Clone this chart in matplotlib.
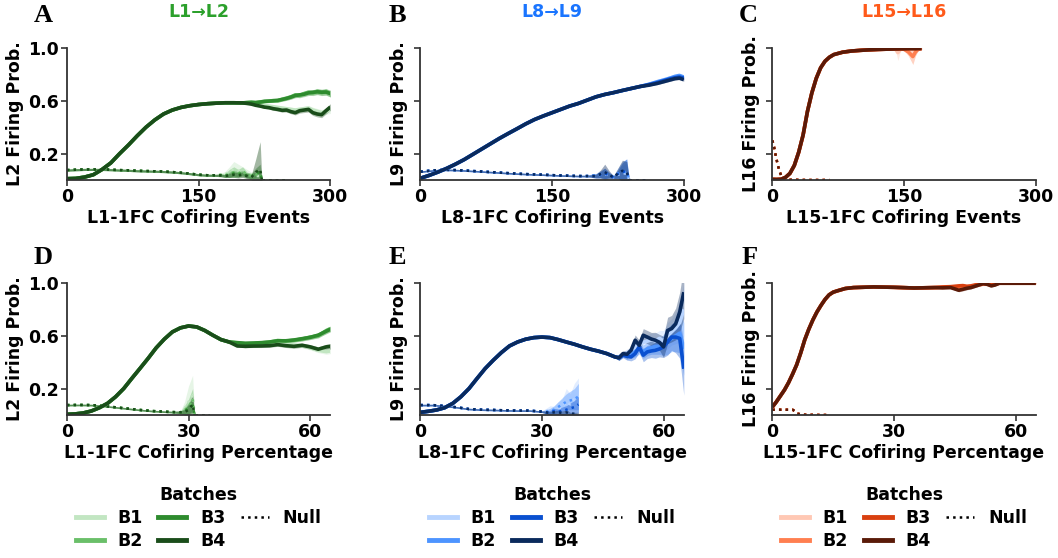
import matplotlib.pyplot as plt
from matplotlib.lines import Line2D

plt.rcParams['font.family'] = ['DejaVu Sans']
plt.rcParams['font.weight'] = 'bold'

BATCHES = ['B1', 'B2', 'B3', 'B4']
GREENS = ['#c2e6c2', '#6abf69', '#2e8b2e', '#1a4d1a']
BLUES = ['#b8d4ff', '#4d94ff', '#0a50d0', '#0a2a5c']
ORANGES = ['#ffc8b4', '#ff7f50', '#d94010', '#5a1a08']
TITLE_COLORS = ['#2ca02c', '#1a75ff', '#ff5a1a']
TITLES = ['L1\u2192L2', 'L8\u2192L9', 'L15\u2192L16']
LETTERS = ['A', 'B', 'C', 'D', 'E', 'F']
YLABELS = ['L2 Firing Prob.', 'L9 Firing Prob.', 'L16 Firing Prob.']
XLABELS_TOP = ['L1-1FC Cofiring Events', 'L8-1FC Cofiring Events', 'L15-1FC Cofiring Events']
XLABELS_BOT = ['L1-1FC Cofiring Percentage', 'L8-1FC Cofiring Percentage', 'L15-1FC Cofiring Percentage']

# ---------------- panel A (L1->L2, events) ----------------
A_x_head = [0, 10, 20, 30, 40, 50, 60, 70, 80, 90, 100, 110, 120, 130, 140, 150, 160, 170, 180, 190, 200]
A_y_head = [0.01, 0.012, 0.022, 0.04, 0.08, 0.13, 0.2, 0.265, 0.335, 0.4, 0.455, 0.5, 0.53, 0.55,
            0.563, 0.572, 0.578, 0.582, 0.585, 0.585, 0.584]
A_x_tail = [205, 210, 215, 220, 225, 230, 235, 240, 245, 250, 255, 260, 265, 270, 275, 280, 285, 290, 295, 300]
A_b1_tail = [0.585, 0.58, 0.575, 0.57, 0.565, 0.56, 0.555, 0.55, 0.545, 0.54, 0.535, 0.53, 0.535, 0.54,
             0.545, 0.53, 0.52, 0.51, 0.52, 0.53]
A_b2_tail = [0.587, 0.589, 0.585, 0.592, 0.595, 0.597, 0.602, 0.6, 0.612, 0.62, 0.63, 0.645, 0.64, 0.655,
             0.665, 0.66, 0.672, 0.662, 0.67, 0.652]
A_b3_tail = [0.586, 0.588, 0.587, 0.59, 0.596, 0.598, 0.6, 0.604, 0.61, 0.618, 0.628, 0.64, 0.645, 0.65,
             0.66, 0.664, 0.668, 0.665, 0.666, 0.655]
A_b4_tail = [0.58, 0.575, 0.566, 0.56, 0.552, 0.548, 0.54, 0.535, 0.528, 0.53, 0.518, 0.51, 0.525, 0.53,
             0.535, 0.51, 0.5, 0.495, 0.525, 0.553]
A_err_head = [0.004] * 21
A_err_tail = [0.006, 0.007, 0.008, 0.009, 0.01, 0.011, 0.012, 0.013, 0.014, 0.015, 0.016, 0.017, 0.018,
              0.019, 0.02, 0.021, 0.022, 0.023, 0.024, 0.025]
A_null_x_head = [0, 10, 20, 30, 40, 50, 60, 70, 80, 90, 100, 110, 120, 130, 140, 150, 160, 170]
A_null_y_head = [0.075, 0.078, 0.08, 0.08, 0.08, 0.078, 0.075, 0.073, 0.07, 0.068, 0.066, 0.064, 0.06,
                 0.055, 0.048, 0.04, 0.036, 0.035]
A_null_err_head = [0.008] * 18
A_null_x_tail = [175, 180, 185, 190, 195, 200, 205, 210, 215, 220, 222]
A_null_b1 = [0.04, 0.045, 0.06, 0.08, 0.07, 0.06, 0.05, 0.04, 0.03, 0.03, 0.0]
A_null_b2 = [0.04, 0.035, 0.05, 0.06, 0.05, 0.07, 0.04, 0.03, 0.04, 0.05, 0.0]
A_null_b3 = [0.035, 0.03, 0.04, 0.05, 0.045, 0.05, 0.035, 0.03, 0.05, 0.06, 0.0]
A_null_b4 = [0.035, 0.03, 0.035, 0.04, 0.035, 0.04, 0.03, 0.02, 0.06, 0.08, 0.0]
A_null_err_b1 = [0.01, 0.02, 0.04, 0.06, 0.05, 0.04, 0.03, 0.02, 0.02, 0.02, 0.0]
A_null_err_b2 = [0.01, 0.015, 0.03, 0.04, 0.03, 0.03, 0.02, 0.02, 0.02, 0.03, 0.0]
A_null_err_b3 = [0.01, 0.01, 0.02, 0.02, 0.02, 0.02, 0.02, 0.02, 0.04, 0.06, 0.0]
A_null_err_b4 = [0.01, 0.01, 0.015, 0.02, 0.02, 0.02, 0.02, 0.02, 0.1, 0.21, 0.0]
A_zero_x = [222, 250]

# ---------------- panel B (L8->L9, events) ----------------
B_x_head = [0, 10, 20, 30, 40, 50, 60, 70, 80, 90, 100, 110, 120, 130, 140, 150, 160, 170, 180, 190,
            200, 210, 220, 230, 240, 250]
B_y_head = [0.013, 0.035, 0.06, 0.088, 0.12, 0.155, 0.195, 0.235, 0.275, 0.315, 0.352, 0.388, 0.425,
            0.458, 0.485, 0.51, 0.535, 0.56, 0.58, 0.605, 0.63, 0.648, 0.662, 0.678, 0.693, 0.708]
B_x_tail = [260, 270, 280, 290, 295, 300]
B_b1_tail = [0.725, 0.742, 0.765, 0.78, 0.785, 0.775]
B_b2_tail = [0.724, 0.745, 0.762, 0.785, 0.792, 0.78]
B_b3_tail = [0.722, 0.738, 0.758, 0.775, 0.78, 0.772]
B_b4_tail = [0.718, 0.732, 0.75, 0.768, 0.772, 0.76]
B_err_head = [0.004] * 26
B_err_tail = [0.008, 0.009, 0.01, 0.011, 0.012, 0.012]
B_null_x_head = [0, 10, 20, 30, 40, 50, 60, 70, 80, 90, 100, 110, 120, 130, 140, 150, 160, 170, 180, 190]
B_null_y_head = [0.063, 0.07, 0.075, 0.077, 0.075, 0.072, 0.068, 0.064, 0.06, 0.056, 0.052, 0.048,
                 0.045, 0.042, 0.04, 0.037, 0.034, 0.032, 0.03, 0.03]
B_null_err_head = [0.006] * 20
B_null_x_tail = [195, 200, 205, 210, 215, 220, 225, 230, 235, 238]
B_null_b1 = [0.035, 0.03, 0.04, 0.045, 0.035, 0.02, 0.04, 0.05, 0.05, 0.0]
B_null_b2 = [0.035, 0.035, 0.045, 0.05, 0.04, 0.025, 0.05, 0.06, 0.06, 0.0]
B_null_b3 = [0.03, 0.03, 0.04, 0.05, 0.035, 0.02, 0.045, 0.06, 0.07, 0.0]
B_null_b4 = [0.03, 0.03, 0.045, 0.06, 0.04, 0.02, 0.05, 0.07, 0.06, 0.0]
B_null_err_b1 = [0.01, 0.015, 0.02, 0.03, 0.02, 0.01, 0.03, 0.06, 0.08, 0.0]
B_null_err_b2 = [0.01, 0.015, 0.025, 0.04, 0.02, 0.01, 0.04, 0.08, 0.1, 0.0]
B_null_err_b3 = [0.01, 0.015, 0.025, 0.04, 0.02, 0.01, 0.03, 0.07, 0.09, 0.0]
B_null_err_b4 = [0.01, 0.015, 0.03, 0.06, 0.03, 0.01, 0.04, 0.08, 0.08, 0.0]
B_zero_x = [238, 258]

# ---------------- panel C (L15->L16, events) ----------------
C_x_head = [0, 5, 10, 15, 20, 25, 30, 35, 40, 45, 50, 55, 60, 65, 70, 80, 90, 100, 110, 120, 130]
C_y_head = [0.005, 0.004, 0.006, 0.02, 0.05, 0.11, 0.21, 0.34, 0.52, 0.66, 0.77, 0.85, 0.9, 0.93,
            0.95, 0.968, 0.977, 0.982, 0.986, 0.989, 0.991]
C_x_tail = [140, 143, 146, 150, 155, 160, 163, 166, 170]
C_b1_tail = [0.993, 0.965, 0.99, 0.994, 0.994, 0.995, 0.995, 0.996, 0.996]
C_b2_tail = [0.993, 0.993, 0.994, 0.99, 0.97, 0.935, 0.97, 0.99, 0.996]
C_b3_tail = [0.993, 0.993, 0.994, 0.994, 0.995, 0.995, 0.995, 0.996, 0.996]
C_b4_tail = [0.993, 0.993, 0.994, 0.994, 0.995, 0.995, 0.995, 0.996, 0.996]
C_err_head = [0.004] * 21
C_err_b1 = [0.004, 0.06, 0.01, 0.004, 0.004, 0.004, 0.004, 0.004, 0.004]
C_err_b2 = [0.004, 0.004, 0.004, 0.01, 0.03, 0.06, 0.03, 0.01, 0.004]
C_err_b3 = [0.004] * 9
C_err_b4 = [0.004] * 9
C_null_x = [0, 2, 4, 6, 8, 10, 12, 15, 20, 30, 40, 50, 65]
C_null_y = [0.3, 0.25, 0.18, 0.12, 0.07, 0.035, 0.012, 0.003, 0.002, 0.001, 0.0, 0.0, 0.0]

# ---------------- panel D (L1->L2, percentage) ----------------
D_x_head = [0, 2, 4, 6, 8, 10, 12, 14, 16, 18, 20, 22, 24, 26, 28, 30, 32, 34, 36, 38, 40]
D_y_head = [0.005, 0.008, 0.015, 0.03, 0.055, 0.088, 0.138, 0.2, 0.277, 0.352, 0.428, 0.508, 0.574,
            0.629, 0.66, 0.674, 0.667, 0.64, 0.604, 0.571, 0.553]
D_x_tail = [42, 44, 46, 48, 50, 52, 54, 56, 58, 60, 62, 64, 65]
D_b1_tail = [0.535, 0.52, 0.525, 0.53, 0.535, 0.54, 0.535, 0.53, 0.525, 0.51, 0.49, 0.48, 0.485]
D_b2_tail = [0.546, 0.541, 0.543, 0.546, 0.552, 0.564, 0.56, 0.566, 0.575, 0.59, 0.6, 0.64, 0.654]
D_b3_tail = [0.548, 0.543, 0.545, 0.548, 0.553, 0.562, 0.562, 0.568, 0.578, 0.588, 0.605, 0.635, 0.65]
D_b4_tail = [0.523, 0.52, 0.522, 0.523, 0.525, 0.533, 0.525, 0.52, 0.528, 0.516, 0.498, 0.516, 0.52]
D_err_head = [0.004] * 21
D_err_tail = [0.01, 0.01, 0.011, 0.012, 0.012, 0.013, 0.014, 0.015, 0.016, 0.017, 0.018, 0.02, 0.02]
D_null_x_head = [0, 3, 6, 9, 12, 15, 18, 21, 24, 26]
D_null_y_head = [0.075, 0.076, 0.075, 0.068, 0.058, 0.048, 0.038, 0.03, 0.025, 0.022]
D_null_err_head = [0.006] * 10
D_null_x_tail = [28, 29, 30, 31, 31.5]
D_null_b1 = [0.02, 0.05, 0.1, 0.15, 0.0]
D_null_b2 = [0.02, 0.04, 0.06, 0.12, 0.0]
D_null_b3 = [0.02, 0.03, 0.05, 0.07, 0.0]
D_null_b4 = [0.02, 0.02, 0.04, 0.08, 0.0]
D_null_err_b1 = [0.01, 0.05, 0.12, 0.15, 0.0]
D_null_err_b2 = [0.01, 0.03, 0.06, 0.08, 0.0]
D_null_err_b3 = [0.01, 0.02, 0.04, 0.05, 0.0]
D_null_err_b4 = [0.01, 0.02, 0.04, 0.07, 0.0]
D_zero_x = [31.5, 35]

# ---------------- panel E (L8->L9, percentage) ----------------
E_x_head = [0, 2, 4, 6, 8, 10, 12, 14, 16, 18, 20, 22, 24, 26, 28, 30, 32, 34, 36, 38, 40, 42, 44, 46, 48]
E_y_head = [0.02, 0.028, 0.038, 0.055, 0.088, 0.138, 0.2, 0.277, 0.352, 0.415, 0.473, 0.523, 0.553,
            0.574, 0.586, 0.59, 0.586, 0.571, 0.553, 0.536, 0.516, 0.498, 0.483, 0.465, 0.44]
E_x_tail = [49, 50, 51, 52, 53, 54, 55, 56, 57, 58, 59, 60, 61, 62, 63, 64, 65]
E_b1_tail = [0.438, 0.46, 0.47, 0.48, 0.52, 0.53, 0.55, 0.56, 0.57, 0.56, 0.58, 0.56, 0.6, 0.63, 0.66,
             0.7, 0.8]
E_b2_tail = [0.435, 0.458, 0.45, 0.46, 0.48, 0.5, 0.48, 0.5, 0.51, 0.52, 0.52, 0.53, 0.56, 0.58, 0.6,
             0.62, 0.5]
E_b3_tail = [0.433, 0.453, 0.445, 0.44, 0.465, 0.516, 0.453, 0.478, 0.485, 0.49, 0.5, 0.516, 0.553,
             0.59, 0.59, 0.58, 0.35]
E_b4_tail = [0.433, 0.465, 0.46, 0.49, 0.566, 0.528, 0.604, 0.59, 0.575, 0.566, 0.55, 0.516, 0.64,
             0.654, 0.69, 0.78, 0.93]
E_err_head = [0.006] * 25
E_err_tail = [0.02, 0.02, 0.03, 0.03, 0.04, 0.04, 0.05, 0.05, 0.05, 0.06, 0.06, 0.08, 0.1, 0.1, 0.12,
              0.15, 0.2]
E_null_x_head = [0, 3, 6, 9, 12, 15, 18, 21, 24, 27, 30]
E_null_y_head = [0.075, 0.075, 0.068, 0.058, 0.045, 0.04, 0.038, 0.035, 0.033, 0.033, 0.025]
E_null_err_head = [0.006] * 11
E_null_x_tail = [31, 32, 33, 34, 35, 36, 37, 38, 39]
E_null_b1 = [0.03, 0.04, 0.035, 0.05, 0.06, 0.1, 0.08, 0.12, 0.13]
E_null_b2 = [0.025, 0.03, 0.04, 0.06, 0.08, 0.1, 0.11, 0.12, 0.14]
E_null_b3 = [0.02, 0.02, 0.03, 0.025, 0.03, 0.04, 0.05, 0.06, 0.08]
E_null_b4 = [0.02, 0.015, 0.02, 0.02, 0.015, 0.02, 0.01, 0.01, 0.01]
E_null_err_b1 = [0.02, 0.03, 0.03, 0.05, 0.06, 0.1, 0.08, 0.12, 0.15]
E_null_err_b2 = [0.015, 0.02, 0.03, 0.04, 0.05, 0.06, 0.07, 0.08, 0.1]
E_null_err_b3 = [0.01, 0.015, 0.02, 0.02, 0.03, 0.03, 0.04, 0.05, 0.06]
E_null_err_b4 = [0.01, 0.01, 0.015, 0.015, 0.015, 0.02, 0.01, 0.01, 0.01]

# ---------------- panel F (L15->L16, percentage) ----------------
F_x_head = [0, 1, 2, 3, 4, 5, 6, 7, 8, 9, 10, 11, 12, 13, 14, 15, 16, 18, 20, 25, 30, 35, 40]
F_y_head = [0.06, 0.1, 0.145, 0.19, 0.245, 0.31, 0.38, 0.47, 0.57, 0.65, 0.72, 0.78, 0.83, 0.875, 0.91,
            0.93, 0.94, 0.958, 0.965, 0.97, 0.967, 0.962, 0.965]
F_x_tail = [42, 44, 45, 46, 47, 48, 49, 50, 51, 52, 53, 54, 55, 56, 58, 60, 62, 65]
F_b1_tail = [0.965, 0.968, 0.965, 0.96, 0.962, 0.968, 0.97, 0.978, 0.985, 0.99, 0.99, 0.985, 0.99,
             0.998, 0.998, 0.998, 0.998, 0.998]
F_b2_tail = [0.966, 0.97, 0.968, 0.965, 0.966, 0.97, 0.972, 0.98, 0.986, 0.992, 0.99, 0.986, 0.992,
             0.998, 0.998, 0.998, 0.998, 0.998]
F_b3_tail = [0.97, 0.972, 0.975, 0.978, 0.98, 0.975, 0.978, 0.985, 0.99, 0.995, 0.995, 0.99, 0.995,
             0.998, 0.998, 0.998, 0.998, 0.998]
F_b4_tail = [0.963, 0.965, 0.955, 0.945, 0.952, 0.96, 0.965, 0.975, 0.985, 0.995, 0.99, 0.978, 0.985,
             0.998, 0.998, 0.998, 0.998, 0.998]
F_err_head = [0.004] * 23
F_err_tail = [0.006, 0.008, 0.01, 0.012, 0.012, 0.012, 0.01, 0.01, 0.01, 0.008, 0.008, 0.01, 0.008,
              0.004, 0.004, 0.004, 0.004, 0.004]
F_null_x = [0, 2, 4, 5, 5.5, 6, 7, 8, 10, 12, 14]
F_null_y = [0.04, 0.04, 0.04, 0.04, 0.03, 0.012, 0.005, 0.002, 0.001, 0.0, 0.0]

FS = 12.5


def band(ax, x, y, err, color, alpha=0.35, **kw):
    lo = [a - e for a, e in zip(y, err)]
    hi = [a + e for a, e in zip(y, err)]
    ax.fill_between(x, lo, hi, color=color, alpha=alpha, linewidth=0)
    ax.plot(x, y, color=color, **kw)


def draw_main(ax, colors, x_head, y_head, err_head, x_tail, tails, errs_tail):
    for i in range(4):
        x = x_head + x_tail
        y = y_head + tails[i]
        e = err_head + errs_tail[i]
        band(ax, x, y, e, colors[i], lw=2.6, solid_capstyle='butt')


def draw_null(ax, colors, x_head, y_head, err_head, x_tail, tails, errs_tail, zero_x=None):
    for i in range(4):
        x = x_head + x_tail
        y = y_head + tails[i]
        e = err_head + errs_tail[i]
        band(ax, x, y, e, colors[i], alpha=0.4, lw=1.8, linestyle=':')
        if zero_x is not None:
            ax.plot(zero_x, [0.002, 0.002], color=colors[i], lw=1.8, linestyle=':')


fig = plt.figure(figsize=(10.58, 5.58), dpi=100)
lefts = [0.0633, 0.3973, 0.730]
width = 0.249
bottoms = [0.6774, 0.2563]
height = 0.2366
axes = []
for r in range(2):
    for c in range(3):
        axes.append(fig.add_axes([lefts[c], bottoms[r], width, height]))

palettes = [GREENS, BLUES, ORANGES]

# A
draw_null(axes[0], GREENS, A_null_x_head, A_null_y_head, A_null_err_head, A_null_x_tail,
          [A_null_b1, A_null_b2, A_null_b3, A_null_b4],
          [A_null_err_b1, A_null_err_b2, A_null_err_b3, A_null_err_b4], A_zero_x)
draw_main(axes[0], GREENS, A_x_head, A_y_head, A_err_head, A_x_tail,
          [A_b1_tail, A_b2_tail, A_b3_tail, A_b4_tail], [A_err_tail] * 4)
# B
draw_null(axes[1], BLUES, B_null_x_head, B_null_y_head, B_null_err_head, B_null_x_tail,
          [B_null_b1, B_null_b2, B_null_b3, B_null_b4],
          [B_null_err_b1, B_null_err_b2, B_null_err_b3, B_null_err_b4], B_zero_x)
draw_main(axes[1], BLUES, B_x_head, B_y_head, B_err_head, B_x_tail,
          [B_b1_tail, B_b2_tail, B_b3_tail, B_b4_tail], [B_err_tail] * 4)
# C
for i in range(4):
    axes[2].plot(C_null_x, C_null_y, color=ORANGES[i], lw=1.8, linestyle=':')
draw_main(axes[2], ORANGES, C_x_head, C_y_head, C_err_head, C_x_tail,
          [C_b1_tail, C_b2_tail, C_b3_tail, C_b4_tail], [C_err_b1, C_err_b2, C_err_b3, C_err_b4])
# D
draw_null(axes[3], GREENS, D_null_x_head, D_null_y_head, D_null_err_head, D_null_x_tail,
          [D_null_b1, D_null_b2, D_null_b3, D_null_b4],
          [D_null_err_b1, D_null_err_b2, D_null_err_b3, D_null_err_b4], D_zero_x)
draw_main(axes[3], GREENS, D_x_head, D_y_head, D_err_head, D_x_tail,
          [D_b1_tail, D_b2_tail, D_b3_tail, D_b4_tail], [D_err_tail] * 4)
# E
draw_null(axes[4], BLUES, E_null_x_head, E_null_y_head, E_null_err_head, E_null_x_tail,
          [E_null_b1, E_null_b2, E_null_b3, E_null_b4],
          [E_null_err_b1, E_null_err_b2, E_null_err_b3, E_null_err_b4])
draw_main(axes[4], BLUES, E_x_head, E_y_head, E_err_head, E_x_tail,
          [E_b1_tail, E_b2_tail, E_b3_tail, E_b4_tail], [E_err_tail] * 4)
# F
for i in range(4):
    axes[5].plot(F_null_x, F_null_y, color=ORANGES[i], lw=1.8, linestyle=':')
draw_main(axes[5], ORANGES, F_x_head, F_y_head, F_err_head, F_x_tail,
          [F_b1_tail, F_b2_tail, F_b3_tail, F_b4_tail], [F_err_tail] * 4)

for k, ax in enumerate(axes):
    r, c = divmod(k, 3)
    ax.set_ylim(0.0, 1.0)
    ax.set_yticks([0.2, 0.6, 1.0])
    if r == 0:
        ax.set_xlim(0, 300)
        ax.set_xticks([0, 150, 300])
        ax.set_xlabel(XLABELS_TOP[c], fontsize=FS, fontweight='bold', labelpad=2)
        ax.set_title(TITLES[c], color=TITLE_COLORS[c], fontsize=FS, fontweight='bold', pad=22)
    else:
        ax.set_xlim(0, 65)
        ax.set_xticks([0, 30, 60])
        ax.set_xlabel(XLABELS_BOT[c], fontsize=FS, fontweight='bold', labelpad=2)
    if c == 0:
        ax.set_yticklabels(['0.2', '0.6', '1.0'])
    else:
        ax.set_yticklabels([])
    ax.set_ylabel(YLABELS[c], fontsize=FS, fontweight='bold', labelpad=3)
    ax.spines['top'].set_visible(False)
    ax.spines['right'].set_visible(False)
    for s in ['left', 'bottom']:
        ax.spines[s].set_linewidth(1.3)
        ax.spines[s].set_color('#333333')
    ax.tick_params(labelsize=FS, width=1.2, length=4, color='#333333', pad=2)
    for lab in ax.get_xticklabels() + ax.get_yticklabels():
        lab.set_fontweight('bold')
    ax.text(-0.055, 1.195 if r == 0 else 1.14, LETTERS[k], transform=ax.transAxes,
            fontsize=19, fontweight='bold', family='Liberation Serif', ha='right', va='baseline')

for c in range(3):
    cols = palettes[c]
    handles = [Line2D([], [], color=cols[i], lw=3.5) for i in range(4)]
    handles.append(Line2D([], [], color='black', lw=1.8, linestyle=':'))
    leg = axes[3 + c].legend(handles, BATCHES + ['Null'], title='Batches', ncol=3, frameon=False,
                             loc='upper center', bbox_to_anchor=(0.5, -0.42), fontsize=FS,
                             title_fontsize=FS, handlelength=1.6, columnspacing=0.9,
                             handletextpad=0.8, labelspacing=0.3)
    leg.get_title().set_fontweight('bold')
    for t in leg.get_texts():
        t.set_fontweight('bold')

fig.savefig('out.png', dpi=100)
